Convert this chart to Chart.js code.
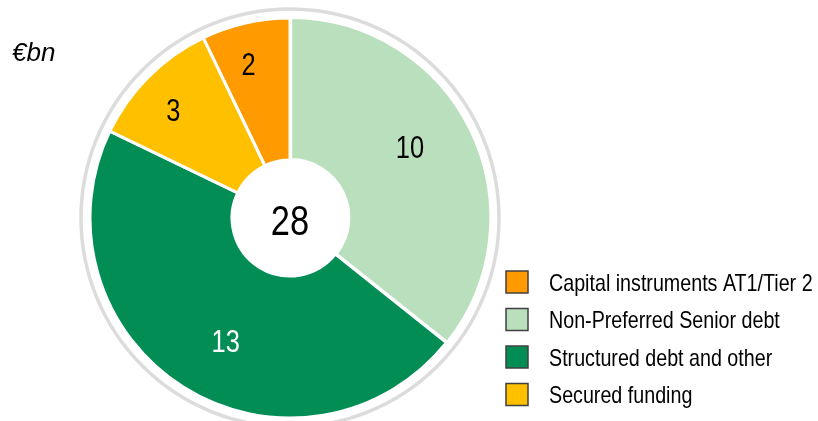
<!DOCTYPE html>
<html>
<head>
<meta charset="utf-8">
<script src="https://cdn.jsdelivr.net/npm/chart.js@4.4.1/dist/chart.umd.min.js"></script>
<style>
  html, body { margin: 0; padding: 0; background: #fff; }
  #wrap { width: 818px; height: 421px; position: relative; }
</style>
</head>
<body>
<div id="wrap"><canvas id="fundingChart"></canvas></div>
<script>
const categories = ['Capital instruments AT1/Tier 2', 'Non-Preferred Senior debt', 'Structured debt and other', 'Secured funding'];
const amounts = [2, 10, 13, 3];
const colors = ['#FF9A00', '#B9DFBD', '#028D55', '#FFC000'];
const labelColors = ['#000', '#000', '#fff', '#000'];
const unitLabel = '€bn';

const total = amounts.reduce((a, b) => a + b, 0);
const sans = '"Liberation Sans", Arial, sans-serif';

// Arial Narrow is not available, so squeeze Liberation Sans horizontally
function narrowText(c, text, x, y, size, align) {
  c.save();
  c.font = size + 'px ' + sans;
  c.textAlign = align;
  c.translate(x, y);
  c.scale(0.82, 1);
  c.fillText(text, 0, 0);
  c.restore();
}

const decorPlugin = {
  id: 'decor',
  beforeDatasetsDraw(chart) {
    const arc = chart.getDatasetMeta(0).data[0];
    const c = chart.ctx;
    c.save();
    c.beginPath();
    c.arc(arc.x, arc.y, arc.outerRadius + 9, 0, Math.PI * 2);
    c.strokeStyle = '#DCDCDC';
    c.lineWidth = 3.5;
    c.stroke();
    c.restore();
  },
  afterDatasetsDraw(chart) {
    const c = chart.ctx;
    const meta = chart.getDatasetMeta(0);
    c.save();
    c.textBaseline = 'middle';
    meta.data.forEach((arc, i) => {
      const p = arc.getProps(['x', 'y', 'startAngle', 'endAngle', 'innerRadius', 'outerRadius']);
      const small = (p.endAngle - p.startAngle) < Math.PI / 4;
      const mid = (p.startAngle + p.endAngle) / 2 - (small ? 0.04 : 0.08);
      const r = p.innerRadius + (p.outerRadius - p.innerRadius) * (small ? 0.71 : 0.57);
      c.fillStyle = labelColors[i];
      narrowText(c, String(amounts[i]), p.x + Math.cos(mid) * r, p.y + Math.sin(mid) * r + 2, 31, 'center');
    });
    const a0 = meta.data[0];
    c.fillStyle = '#000';
    narrowText(c, String(total), a0.x, a0.y + 5, 42, 'center');

    // unit
    c.textBaseline = 'alphabetic';
    c.font = 'italic 26px ' + sans;
    c.textAlign = 'left';
    c.fillText(unitLabel, 12, 61);

    // legend
    c.textBaseline = 'middle';
    categories.forEach((name, i) => {
      const y = 282 + i * 37.5;
      c.fillStyle = colors[i];
      c.fillRect(506, y - 11, 22, 22);
      c.strokeStyle = '#404040';
      c.lineWidth = 1.5;
      c.strokeRect(506, y - 11, 22, 22);
      c.fillStyle = '#000';
      narrowText(c, name, 549, y + 2, 24, 'left');
    });
    c.restore();
  }
};

new Chart(document.getElementById('fundingChart'), {
  type: 'doughnut',
  data: {
    labels: categories,
    datasets: [{
      data: amounts,
      backgroundColor: colors,
      borderColor: '#fff',
      borderWidth: 3,
      offset: [0, 3, 0, 0],
      hoverOffset: 0
    }]
  },
  options: {
    responsive: true,
    maintainAspectRatio: false,
    animation: false,
    rotation: -amounts[0] / total * 360,
    radius: 200,
    cutout: 58,
    layout: { padding: { left: 0, right: 238, top: 15, bottom: 0 } },
    plugins: {
      legend: { display: false },
      tooltip: { enabled: false }
    }
  },
  plugins: [decorPlugin]
});
</script>
</body>
</html>
